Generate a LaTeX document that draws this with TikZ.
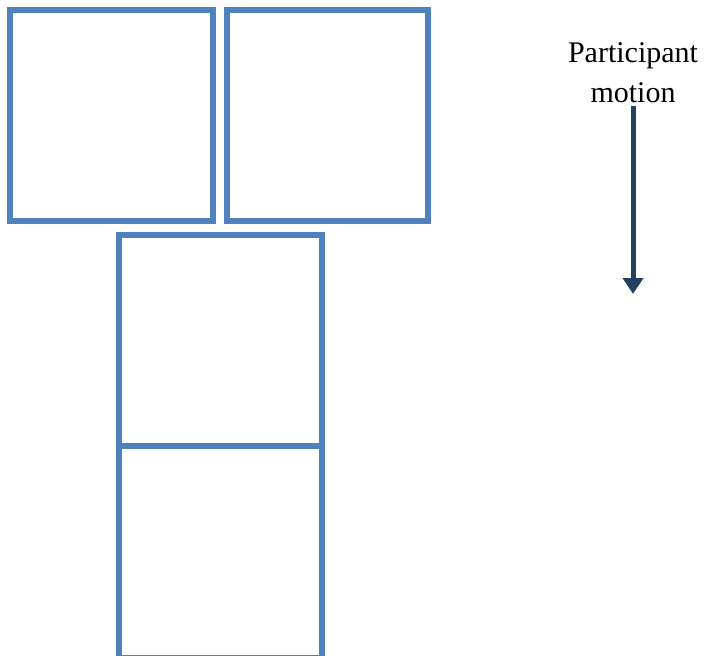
\documentclass[tikz,border=0pt]{standalone}
\usepackage{fontspec}
\setmainfont{Liberation Serif}
\usetikzlibrary{arrows.meta}
\usetikzlibrary{positioning}

\definecolor{boxblue}{HTML}{4F81BD}
\definecolor{motionnavy}{HTML}{244062}

\tikzset{
  seat/.style={draw=boxblue,line width=6pt,minimum width=203pt,minimum height=211pt,inner sep=0pt,outer sep=0pt},
  motionarrow/.style={draw=motionnavy,line width=5pt,-{Triangle[width=20pt,length=16pt]}}
}

\begin{document}
\begin{tikzpicture}[x=1pt,y=-1pt,node distance=0pt]
  \useasboundingbox (0,0) rectangle (708,655);
  \node[seat] (seatA) at (111.5,115.5) {};
  \node[seat,minimum width=201pt] (seatB) at (327.5,115.5) {};
  \node[seat] (seatC) at (220,340.5) {};
  \node[seat,minimum height=212pt,below=of seatC] (seatD) {};
  \node[align=center,font=\fontsize{30}{40}\selectfont] (motionLabel) at (633,73) {Participant\\motion};
  \coordinate (motionStart) at (633,106);
  \coordinate (motionEnd) at (633,294);
  \draw[motionarrow] (motionStart) -- (motionEnd);
\end{tikzpicture}
\end{document}
